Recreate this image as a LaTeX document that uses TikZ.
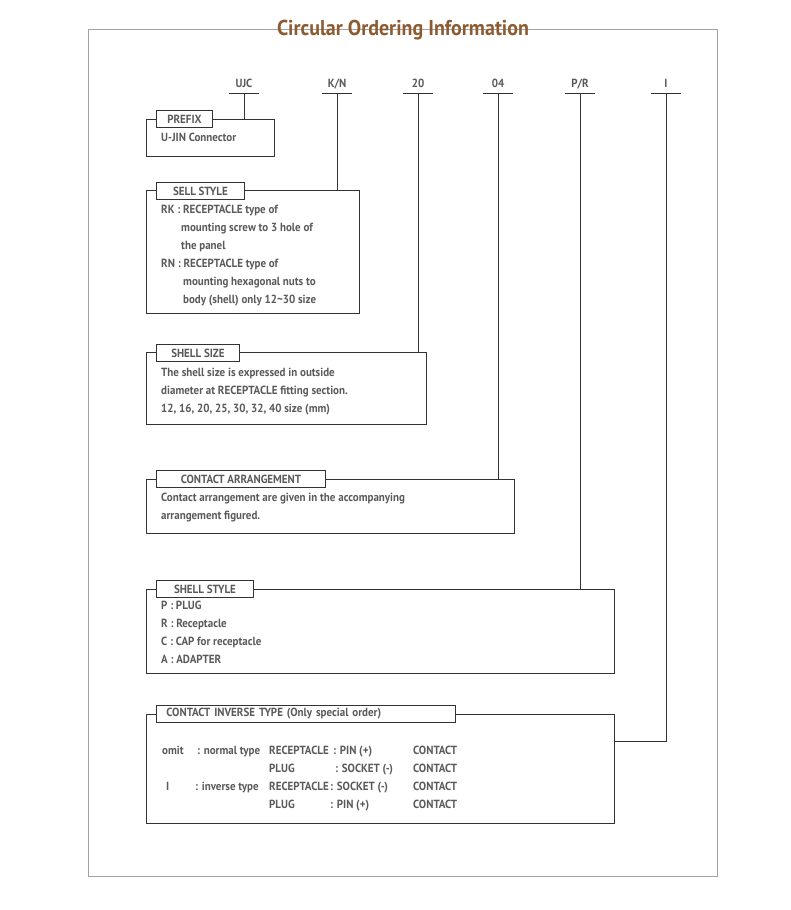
\documentclass[tikz,border=0pt]{standalone}
\usepackage{fontspec}
\setmainfont{PT Sans}[FakeStretch=0.93]
\definecolor{txtgray}{HTML}{5A5A5A}
\definecolor{titlebrown}{HTML}{8C5B30}
\definecolor{framegray}{HTML}{A3A3A3}
\definecolor{linegray}{HTML}{333333}

\begin{document}
\begin{tikzpicture}[x=1pt,y=1pt,text=txtgray,
  font=\bfseries\fontsize{11.8}{18}\selectfont,
  box/.style={draw=linegray,line width=0.9pt,anchor=north west,inner sep=0pt},
  tab/.style={draw=linegray,line width=0.9pt,fill=white,anchor=north west,inner sep=0pt,minimum height=17pt},
  body/.style={anchor=north west,align=left,inner sep=0pt},
  cell/.style={anchor=base west,inner sep=0pt},
  code/.style={anchor=south,minimum width=30pt,inner sep=0pt,text height=8pt,text depth=6pt,
    append after command={(\tikzlastnode.south west) edge[draw=linegray,line width=0.9pt] (\tikzlastnode.south east)}},
  link/.style={draw=linegray,line width=0.9pt}]
\useasboundingbox (0,0) rectangle (790,-910);
\draw[framegray,line width=0.9pt] (88,-29) rectangle (717,-876);
\node[anchor=base,inner sep=0pt,font=\bfseries\fontsize{21.5}{24}\selectfont,text=titlebrown] (title) at (403,-35) {Circular Ordering Information};

% order code
\node[code] (ujc) at (244,-93.5) {UJC};
\node[code] (kn)  at (337,-93.5) {K/N};
\node[code] (sz)  at (418,-93.5) {20};
\node[code] (ca)  at (498,-93.5) {04};
\node[code] (pr)  at (580,-93.5) {P/R};
\node[code] (typ) at (666,-93.5) {I};

% boxes
\node[box,minimum width=128pt,minimum height=37pt]  (prefix)  at (146,-119) {};
\node[box,minimum width=213pt,minimum height=123pt] (sell)    at (146,-190) {};
\node[box,minimum width=280pt,minimum height=72pt]  (size)    at (146,-352) {};
\node[box,minimum width=368pt,minimum height=54pt]  (arrange) at (146,-479) {};
\node[box,minimum width=468pt,minimum height=84pt]  (style)   at (146,-589) {};
\node[box,minimum width=468pt,minimum height=109pt] (inverse) at (146,-714) {};

% connectors
\draw[link] (ujc.south) -- (ujc.south |- prefix.north);
\draw[link] (kn.south) -- (kn.south |- sell.north);
\draw[link] (sz.south) -- (sz.south |- size.north);
\draw[link] (ca.south) -- (ca.south |- arrange.north);
\draw[link] (pr.south) -- (pr.south |- style.north);
\draw[link] (typ.south) |- ([yshift=-27pt]inverse.north east);

% tabs
\node[tab,minimum width=56pt]  (prefixtab)  at (156,-110) {PREFIX};
\node[tab,minimum width=88pt]  (selltab)    at (156,-182) {SELL STYLE};
\node[tab,minimum width=83pt]  (sizetab)    at (156,-344) {SHELL SIZE};
\node[tab,minimum width=169pt] (arrangetab) at (156,-470) {CONTACT ARRANGEMENT};
\node[tab,minimum width=97pt]  (styletab)   at (156,-580) {SHELL STYLE};
\node[tab,inner xsep=10pt,text width=279pt,align=left] (inversetab) at (156,-705) {CONTACT INVERSE TYPE (Only special order)};

% texts
\node[body] (prefixtxt) at (161,-133) {U-JIN Connector};
\node[body] (selltxt) at (161,-205) {RK : RECEPTACLE type of\\
  \hspace*{20pt}mounting screw to 3 hole of\\
  \hspace*{20pt}the panel\\
  RN : RECEPTACLE type of\\
  \hspace*{22pt}mounting hexagonal nuts to\\
  \hspace*{22pt}body (shell) only 12\textasciitilde30 size};
\node[body] (sizetxt) at (161,-368) {The shell size is expressed in outside\\
  diameter at RECEPTACLE fitting section.\\
  12, 16, 20, 25, 30, 32, 40 size (mm)};
\node[body] (arrangetxt) at (161,-493) {Contact arrangement are given in the accompanying\\
  arrangement figured.};
\node[body] (styletxt) at (161,-601) {P : PLUG\\
  R : Receptacle\\
  C : CAP for receptacle\\
  A : ADAPTER};

% inverse type table
\node[cell] (omit)  at (162,-754) {omit};
\node[cell] (norm)  at (197,-754) {: normal type};
\node[cell] (r1a)   at (269,-754) {RECEPTACLE};
\node[cell] (r1b)   at (333,-754) {: PIN (+)};
\node[cell] (r1c)   at (413,-754) {CONTACT};
\node[cell] (r2a)   at (269,-772) {PLUG};
\node[cell] (r2b)   at (335,-772) {: SOCKET (-)};
\node[cell] (r2c)   at (413,-772) {CONTACT};
\node[cell] (inv)   at (166,-790) {I};
\node[cell] (invt)  at (195,-790) {: inverse type};
\node[cell] (r3a)   at (269,-790) {RECEPTACLE};
\node[cell] (r3b)   at (330,-790) {: SOCKET (-)};
\node[cell] (r3c)   at (413,-790) {CONTACT};
\node[cell] (r4a)   at (269,-808) {PLUG};
\node[cell] (r4b)   at (330,-808) {: PIN (+)};
\node[cell] (r4c)   at (413,-808) {CONTACT};
\end{tikzpicture}
\end{document}
